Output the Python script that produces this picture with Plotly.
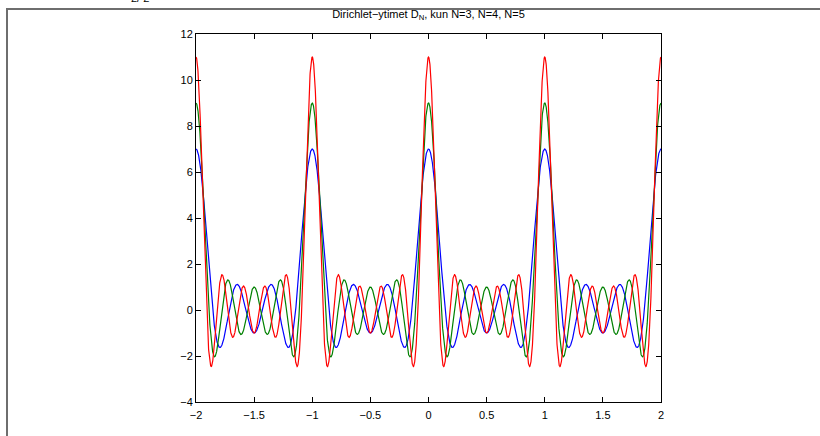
import numpy as np
import plotly.graph_objects as go

# Kernel orders and line colours
orders = [3, 4, 5]
colors = ["#0000ff", "#008000", "#ff0000"]
x_range = [-2, 2]
y_range = [-4, 12]
x_ticks = [-2, -1.5, -1, -0.5, 0, 0.5, 1, 1.5, 2]
y_ticks = [-4, -2, 0, 2, 4, 6, 8, 10, 12]

x = np.linspace(x_range[0], x_range[1], 4001)


def dirichlet(n, t):
    # D_N(t) = sum_{k=-N}^{N} exp(2*pi*i*k*t)
    return 1 + 2 * sum(np.cos(2 * np.pi * k * t) for k in range(1, n + 1))


fig = go.Figure()
for n, c in zip(orders, colors):
    fig.add_trace(go.Scatter(x=x, y=dirichlet(n, x), mode="lines",
                             line=dict(color=c, width=1.2), showlegend=False,
                             name=f"N={n}"))

L, R, T, B = 196, 159, 34, 34
W, H = 820, 436
pw, ph = W - L - R, H - T - B


def px(xp):
    return (xp - L) / pw


def py(yp):
    return (H - B - yp) / ph


font_family = "Liberation Sans, Arial, sans-serif"
axis_common = dict(showgrid=False, zeroline=False, showline=True, linecolor="black",
                   linewidth=1, mirror="allticks", ticks="inside", ticklen=5,
                   tickcolor="black", tickfont=dict(size=11, color="black", family=font_family))

fig.update_layout(
    width=W, height=H,
    margin=dict(l=L, r=R, t=T, b=B),
    plot_bgcolor="white", paper_bgcolor="white",
    title=dict(text="Dirichlet−ytimet D<sub>N</sub>, kun N=3, N=4, N=5",
               x=(L + pw / 2) / W, xanchor="center", y=1 - 14 / H, yanchor="middle",
               font=dict(size=11, color="black", family=font_family)),
    xaxis=dict(range=x_range, tickvals=x_ticks, ticklabelstandoff=3, **axis_common),
    yaxis=dict(range=y_range, tickvals=y_ticks, **axis_common),
    shapes=[
        dict(type="line", xref="paper", yref="paper", x0=px(7), x1=px(820),
             y0=py(9), y1=py(9), line=dict(color="#6e6e6e", width=2)),
        dict(type="line", xref="paper", yref="paper", x0=px(7), x1=px(7),
             y0=py(8), y1=py(440), line=dict(color="#6e6e6e", width=2)),
    ],
    annotations=[
        dict(text="2/ 2", xref="paper", yref="paper", x=px(140), y=py(5),
             xanchor="center", yanchor="bottom", showarrow=False, borderpad=0,
             font=dict(size=11, color="black", family=font_family)),
    ],
)

fig.write_html("out.html", config={"displayModeBar": False})
